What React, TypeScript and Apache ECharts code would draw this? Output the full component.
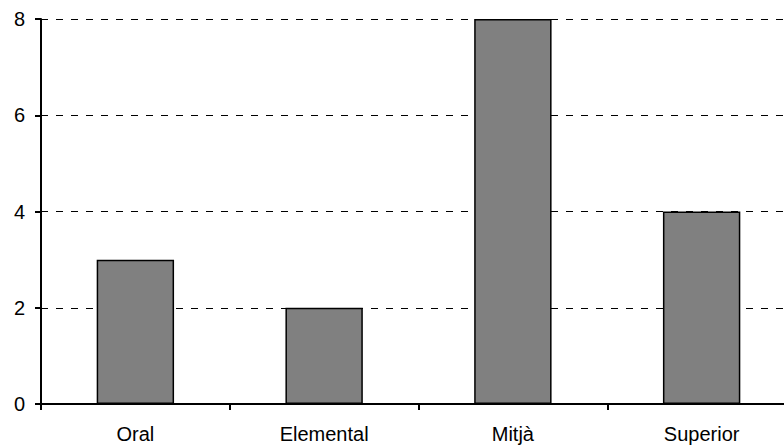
import React, { useEffect, useRef } from "react";
import * as echarts from "echarts";

const categories = ["Oral", "Elemental", "Mitjà", "Superior"];
const values = [3, 2, 8, 4];
const yTicks = { min: 0, max: 8, interval: 2 };

export default function App() {
  const ref = useRef<HTMLDivElement>(null);
  useEffect(() => {
    document.body.style.margin = "0";
    document.body.style.overflow = "hidden";
    if (!ref.current) return;
    const chart = echarts.init(ref.current, null, { renderer: "svg" });
    chart.setOption({
      animation: false,
      backgroundColor: "#ffffff",
      grid: { left: 41, top: 19, right: 4, bottom: 42, containLabel: false },
      xAxis: {
        type: "category",
        data: categories,
        boundaryGap: true,
        axisLine: { lineStyle: { color: "#000", width: 2 } },
        axisTick: { show: true, length: 6, inside: false, lineStyle: { color: "#000", width: 2 } },
        axisLabel: { color: "#000", fontSize: 20, fontFamily: "Liberation Sans, Arial, sans-serif", margin: 20 },
        splitLine: { show: false },
      },
      yAxis: {
        type: "value",
        min: yTicks.min,
        max: yTicks.max,
        interval: yTicks.interval,
        axisLine: { show: true, lineStyle: { color: "#000", width: 2 } },
        axisTick: { show: true, length: 6, lineStyle: { color: "#000", width: 2 } },
        axisLabel: { color: "#000", fontSize: 20, fontFamily: "Liberation Sans, Arial, sans-serif", margin: 16 },
        splitLine: { show: true, lineStyle: { color: "#000", width: 1, type: [7, 8] } },
      },
      series: [
        {
          type: "bar",
          data: values,
          barCategoryGap: "59%",
          itemStyle: { color: "#808080", borderColor: "#000", borderWidth: 1.5 },
        },
      ],
    });
    return () => chart.dispose();
  }, []);
  return (
    <div style={{ width: 784, height: 446, overflow: "hidden" }}>
      <div ref={ref} style={{ width: 800, height: 446 }} />
    </div>
  );
}
